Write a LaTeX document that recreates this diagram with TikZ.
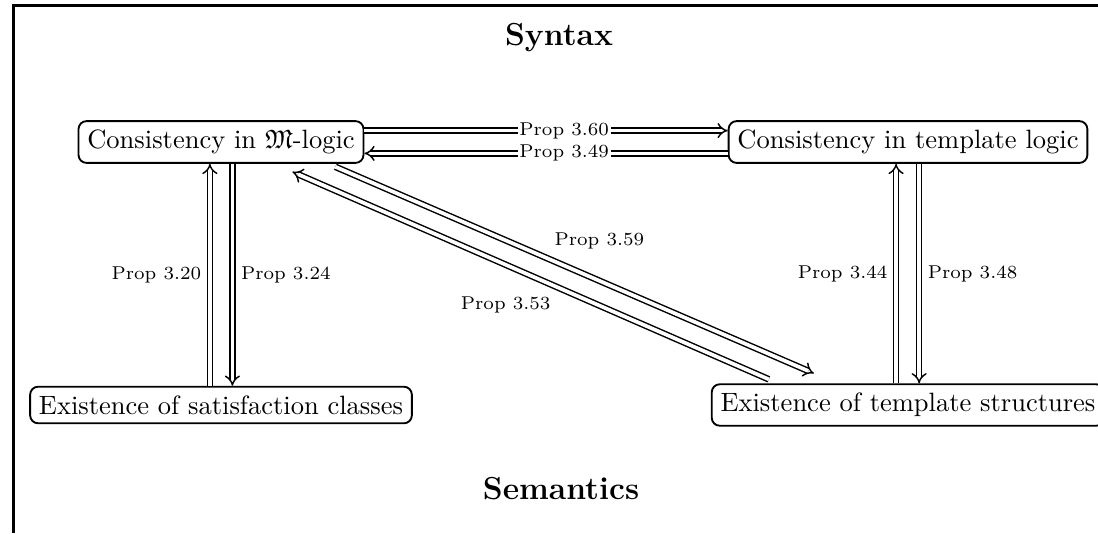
\documentclass[tikz,border=0pt]{standalone}
\usepackage{amssymb}
\usetikzlibrary{arrows.meta,calc}
\begin{document}
\begin{tikzpicture}[x=0.3774pt,y=-0.3774pt,
  box/.style={draw, rounded corners=3pt, line width=0.7pt, inner sep=3.33pt, font=\normalsize},
  imp/.style={double, double distance=1.4pt, line width=0.55pt, -{Implies}},
  lab/.style={font=\scriptsize, inner sep=3pt},
  hlab/.style={font=\scriptsize, fill=white, inner sep=0.6pt},
  titletext/.style={font=\large\bfseries, inner sep=0pt}]
\useasboundingbox (0,0) rectangle (1098,533);
\draw[line width=1pt] (13.3,533) -- (13.3,5.7) -- (1098,5.7);

\node[titletext, anchor=base] (syn) at (559,45) {Syntax};
\node[titletext, anchor=base] (sem) at (561,499) {Semantics};

\node[box] (m)  at (221,142) {Consistency in $\mathfrak{M}$-logic};
\node[box] (t)  at (908,142) {Consistency in template logic};
\node[box] (s)  at (221,405) {Existence of satisfaction classes};
\node[box] (ts) at (908,405) {Existence of template structures};

% horizontal
\draw[imp] ([yshift=4.3pt]m.east) -- ([yshift=4.3pt]t.west)
  node[hlab, pos=0.55] {Prop 3.60};
\draw[imp] ([yshift=-4.3pt]t.west) -- ([yshift=-4.3pt]m.east)
  node[hlab, pos=0.45] {Prop 3.49};

% left vertical
\draw[imp] ([xshift=-4.2pt]s.north) -- ([xshift=-4.2pt]m.south)
  node[lab, midway, left] {Prop 3.20};
\draw[imp] ([xshift=4.3pt]m.south) -- ([xshift=4.3pt]s.north)
  node[lab, midway, right] {Prop 3.24};

% right vertical
\draw[imp] ([xshift=-4.5pt]ts.north) -- ([xshift=-4.5pt]t.south)
  node[lab, midway, left] {Prop 3.44};
\draw[imp] ([xshift=4.2pt]t.south) -- ([xshift=4.2pt]ts.north)
  node[lab, midway, right] {Prop 3.48};

% diagonals
\coordinate (d1a) at ($(m.south east)+(-29,3)$);
\coordinate (d1b) at ($(ts.north west)+(103,-10)$);
\coordinate (d2a) at ($(ts.north west)+(58,-4)$);
\coordinate (d2b) at ($(m.south east)+(-72,8)$);
\draw[imp] (d1a) -- (d1b) node[lab, pos=0.44, above right] {Prop 3.59};
\draw[imp] (d2a) -- (d2b) node[lab, pos=0.44, below left] {Prop 3.53};
\end{tikzpicture}
\end{document}
